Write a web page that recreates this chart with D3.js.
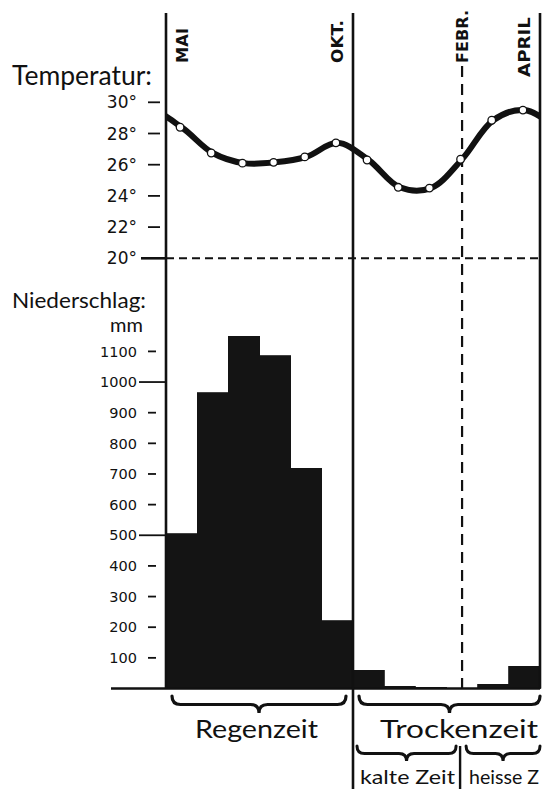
<!DOCTYPE html>
<html>
<head>
<meta charset="utf-8">
<script src="https://cdn.jsdelivr.net/npm/d3@7"></script>
<style>
  html, body { margin: 0; padding: 0; background: #fff; overflow: hidden; }
  svg { display: block; }
</style>
</head>
<body>
<svg id="chart" width="545" height="789"></svg>
<script>
// ---------- data ----------
const months = ["Mai","Jun","Jul","Aug","Sep","Okt","Nov","Dez","Jan","Feb","Mär","Apr"];
const temperature = [28.4, 26.75, 26.1, 26.15, 26.5, 27.4, 26.3, 24.55, 24.5, 26.35, 28.85, 29.5];
const precipitation = [505, 965, 1150, 1085, 718, 221, 60, 8, 4, 0, 14, 72];
const tempTicks = [30, 28, 26, 24, 22, 20];
const precipTicks = [1100, 1000, 900, 800, 700, 600, 500, 400, 300, 200, 100];
const longPrecipTicks = [1000, 500];
const markMonths = ["Mai", "Okt", "Feb", "Apr"];
const markLabels = ["MAI", "OKT.", "FEBR.", "APRIL"];
const seasonNames = ["Regenzeit", "Trockenzeit"];
const seasonFrom = [0, 6];
const seasonTo = [6, 12];
const subSeasonNames = ["kalte Zeit", "heisse Z"];
const subSeasonFrom = [6, 9.5];
const subSeasonTo = [9.5, 12];

// ---------- layout ----------
const X0 = 166, X1 = 540;
const INK = "#111";
const HAND = "Lato, 'Noto Sans', sans-serif";
const svg = d3.select("#chart");

const xm = d3.scaleLinear().domain([0, 12]).range([X0, X1]);
const x = d3.scaleBand().domain(months).range([X0, X1]).padding(0);
const yT = d3.scaleLinear().domain([20, 30]).range([258.3, 102.3]);
const yP = d3.scaleLinear().domain([0, 1100]).range([688.5, 351.4]);

// ---------- titles ----------
svg.append("text").attr("x", 12).attr("y", 85)
  .attr("font-family", HAND).attr("font-size", 27)
  .attr("textLength", 140).attr("lengthAdjust", "spacingAndGlyphs")
  .attr("fill", INK).text("Temperatur:");
svg.append("text").attr("x", 12).attr("y", 308)
  .attr("font-family", HAND).attr("font-size", 22)
  .attr("textLength", 134).attr("lengthAdjust", "spacingAndGlyphs")
  .attr("fill", INK).text("Niederschlag:");
svg.append("text").attr("x", 143).attr("y", 332).attr("text-anchor", "end")
  .attr("font-family", HAND).attr("font-size", 20)
  .attr("fill", INK).text("mm");

// ---------- temperature axis ----------
const tAxis = svg.append("g");
tAxis.selectAll("text").data(tempTicks).join("text")
  .attr("x", 137).attr("y", d => yT(d)).attr("dy", "0.36em")
  .attr("text-anchor", "end")
  .attr("font-family", "'DejaVu Sans', sans-serif").attr("font-size", 17)
  .attr("fill", INK).text(d => d + "°");
tAxis.selectAll("line").data(tempTicks).join("line")
  .attr("x1", d => d === 20 ? 141 : 148).attr("x2", d => d === 20 ? X0 : 160)
  .attr("y1", d => yT(d)).attr("y2", d => yT(d))
  .attr("stroke", INK).attr("stroke-width", d => d === 20 ? 2.6 : 1.8);

// dashed 20° line
svg.append("line").attr("x1", X0).attr("x2", X1)
  .attr("y1", yT(20)).attr("y2", yT(20))
  .attr("stroke", INK).attr("stroke-width", 2).attr("stroke-dasharray", "8,5");

// ---------- precipitation axis ----------
const pAxis = svg.append("g");
pAxis.selectAll("text").data(precipTicks).join("text")
  .attr("x", 137).attr("y", d => yP(d)).attr("dy", "0.36em")
  .attr("text-anchor", "end")
  .attr("font-family", "'DejaVu Sans', sans-serif").attr("font-size", 14.5)
  .attr("fill", INK).text(d => d);
pAxis.selectAll("line").data(precipTicks).join("line")
  .attr("x1", d => longPrecipTicks.includes(d) ? 139 : 148)
  .attr("x2", d => longPrecipTicks.includes(d) ? X0 : 156)
  .attr("y1", d => yP(d)).attr("y2", d => yP(d))
  .attr("stroke", INK).attr("stroke-width", 1.8);

// ---------- bars ----------
svg.append("g").attr("shape-rendering", "crispEdges").selectAll("rect")
  .data(months.map((m, i) => ({ m, v: precipitation[i] })).filter(d => d.v > 0))
  .join("rect")
  .attr("x", d => x(d.m)).attr("width", x.bandwidth())
  .attr("y", d => yP(d.v)).attr("height", d => yP(0) - yP(d.v))
  .attr("fill", "#141414").attr("stroke", "#141414").attr("stroke-width", 0.8);

// baseline
svg.append("line").attr("x1", 111).attr("x2", X1)
  .attr("y1", yP(0)).attr("y2", yP(0))
  .attr("stroke", INK).attr("stroke-width", 2.4);

// ---------- vertical lines ----------
svg.append("line").attr("x1", xm(0)).attr("x2", xm(0)).attr("y1", 13).attr("y2", yP(0))
  .attr("stroke", INK).attr("stroke-width", 2.6);
svg.append("line").attr("x1", xm(12)).attr("x2", xm(12)).attr("y1", 13).attr("y2", yP(0))
  .attr("stroke", INK).attr("stroke-width", 2.6);
svg.append("line").attr("x1", xm(6)).attr("x2", xm(6)).attr("y1", 13).attr("y2", 789)
  .attr("stroke", INK).attr("stroke-width", 2.6);
svg.append("line").attr("x1", xm(9.5)).attr("x2", xm(9.5)).attr("y1", 66).attr("y2", yP(0))
  .attr("stroke", INK).attr("stroke-width", 2.2).attr("stroke-dasharray", "11,7");
svg.append("line").attr("x1", xm(9.5) - 2).attr("x2", xm(9.5) - 2).attr("y1", 746).attr("y2", 789)
  .attr("stroke", INK).attr("stroke-width", 2.4);

// ---------- month labels ----------
const labelStart = [63, 63, 63, 77];
svg.append("g").selectAll("text").data(markMonths).join("text")
  .attr("transform", (d, i) => `translate(${x(d) + x.bandwidth() / 2 + 6},${labelStart[i]}) rotate(-90)`)
  .attr("font-family", "'DejaVu Sans', sans-serif").attr("font-size", 15)
  .attr("font-weight", "bold")
  .attr("textLength", (d, i) => [35, 43, 53, 60][i]).attr("lengthAdjust", "spacingAndGlyphs")
  .attr("fill", INK).text((d, i) => markLabels[i]);

// ---------- temperature curve ----------
svg.append("defs").append("clipPath").attr("id", "plotClip")
  .append("rect").attr("x", X0).attr("y", 0).attr("width", X1 - X0).attr("height", 300);

const tPts = months.map((m, i) => ({ pos: i + 0.5, t: temperature[i] }));
const tWrap = [
  { pos: -1.5, t: temperature[10] }, { pos: -0.5, t: temperature[11] },
  ...tPts,
  { pos: 12.5, t: temperature[0] }, { pos: 13.5, t: temperature[1] }
];
const line = d3.line().x(d => xm(d.pos)).y(d => yT(d.t)).curve(d3.curveCatmullRom.alpha(0.5));
svg.append("path").attr("clip-path", "url(#plotClip)")
  .attr("d", line(tWrap)).attr("fill", "none")
  .attr("stroke", INK).attr("stroke-width", 6).attr("stroke-linecap", "round");
svg.append("g").selectAll("circle").data(tPts).join("circle")
  .attr("cx", d => xm(d.pos) - 1.5).attr("cy", d => yT(d.t)).attr("r", 3.8)
  .attr("fill", "#fff").attr("stroke", INK).attr("stroke-width", 1.3);

// ---------- braces ----------
function brace(x1, x2, y0, a) {
  const xc = (x1 + x2) / 2, ym = y0 + a, tip = y0 + 2 * a;
  return `M${x1},${y0} Q${x1},${ym} ${x1 + a},${ym} L${xc - a},${ym} Q${xc},${ym} ${xc},${tip}` +
         ` Q${xc},${ym} ${xc + a},${ym} L${x2 - a},${ym} Q${x2},${ym} ${x2},${y0}`;
}
const bg = svg.append("g");
const seasonTextLen = [123, 158];
seasonNames.forEach((name, i) => {
  const a = xm(seasonFrom[i]) + 6, b = xm(seasonTo[i]) - (i === 0 ? 7 : 0);
  bg.append("path").attr("d", brace(a, b, 696, 8.5))
    .attr("fill", "none").attr("stroke", INK).attr("stroke-width", 3.2).attr("stroke-linecap", "round");
  bg.append("text").attr("x", i === 0 ? 195 : 380).attr("y", 738)
    .attr("font-family", HAND).attr("font-size", 25)
    .attr("textLength", seasonTextLen[i]).attr("lengthAdjust", "spacingAndGlyphs")
    .attr("fill", INK).text(name);
});
const subTextLen = [95, 70];
subSeasonNames.forEach((name, i) => {
  const a = xm(subSeasonFrom[i]) + 4, b = xm(subSeasonTo[i]) - (i === 0 ? 6 : 0);
  bg.append("path").attr("d", brace(a, b, 746, 7.5))
    .attr("fill", "none").attr("stroke", INK).attr("stroke-width", 3).attr("stroke-linecap", "round");
  bg.append("text").attr("x", a + 3).attr("y", 784)
    .attr("font-family", HAND).attr("font-size", 20)
    .attr("textLength", subTextLen[i]).attr("lengthAdjust", "spacingAndGlyphs")
    .attr("fill", INK).text(name);
});
</script>
</body>
</html>
